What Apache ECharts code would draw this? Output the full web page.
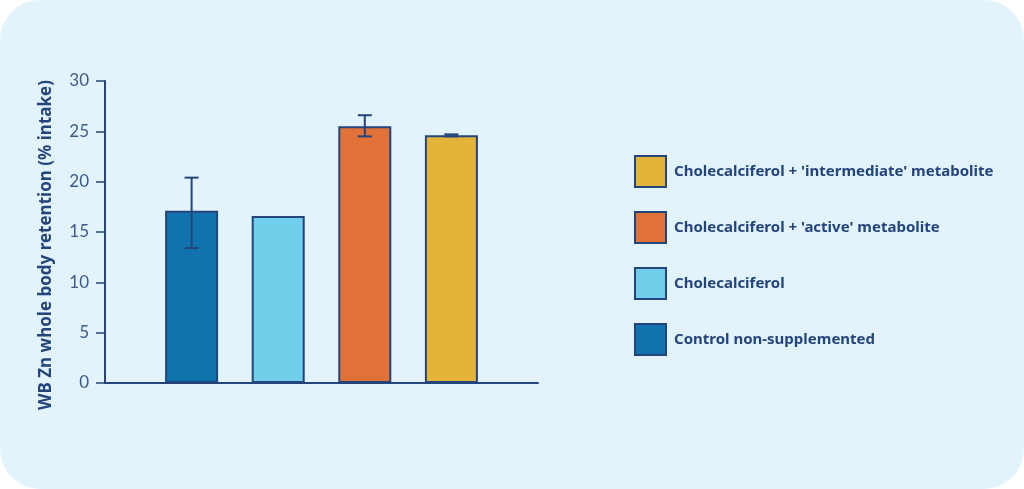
<!DOCTYPE html>
<html>
<head>
<meta charset="utf-8">
<script src="https://cdn.jsdelivr.net/npm/echarts@6/dist/echarts.min.js"></script>
<style>
  html, body { margin: 0; padding: 0; background: #ffffff; }
  #main { width: 1024px; height: 489px; background: #e2f3fb; border-radius: 40px; }
</style>
</head>
<body>
<div id="main"></div>
<script>
// groups, in plotting order (left to right)
const groups = ['Control non-supplemented', 'Cholecalciferol', "Cholecalciferol + 'active' metabolite", "Cholecalciferol + 'intermediate' metabolite"];
const values = [17.1, 16.6, 25.5, 24.6];
const errLow = [13.4, null, 24.5, 24.5];
const errHigh = [20.4, null, 26.6, 24.7];
const colors = ['#1173ae', '#70cfea', '#e17237', '#e3b43a'];
const yTicks = [0, 5, 10, 15, 20, 25, 30];

// one empty slot on each side of the bars
const slots = ['', ...groups, ''];
const navy = '#24447c';

const chart = echarts.init(document.getElementById('main'));

const barSeries = groups.map((g, i) => ({
  name: g,
  type: 'bar',
  barWidth: 53,
  barGap: '-100%',
  data: slots.map((s, k) => (k === i + 1 ? values[i] : null)),
  itemStyle: { color: colors[i], borderColor: navy, borderWidth: 2 }
}));

const errData = [];
groups.forEach((g, i) => {
  if (errLow[i] != null) errData.push([i + 1, errLow[i], errHigh[i]]);
});

const option = {
  backgroundColor: 'transparent',
  animation: false,
  textStyle: { fontFamily: 'Lato' },
  grid: { left: 105, right: 486, top: 81, bottom: 106 },
  legend: {
    data: groups.slice().reverse(),
    orient: 'vertical',
    left: 629,
    top: 150,
    itemWidth: 31,
    itemHeight: 31,
    itemGap: 23,
    icon: 'rect',
    textStyle: { color: navy, fontSize: 15, fontWeight: 'bold', fontFamily: 'Noto Sans', padding: [0, 0, 0, 3] }
  },
  xAxis: {
    type: 'category',
    data: slots,
    boundaryGap: false,
    axisLine: { lineStyle: { color: navy, width: 2 } },
    axisTick: { show: false },
    axisLabel: { show: false },
    splitLine: { show: false }
  },
  yAxis: {
    type: 'value',
    min: yTicks[0],
    max: yTicks[yTicks.length - 1],
    interval: 5,
    name: 'WB Zn whole body retention (% intake)',
    nameLocation: 'middle',
    nameGap: 50,
    nameTextStyle: { color: navy, fontSize: 17, fontWeight: 'bold', fontFamily: 'Noto Sans', padding: [0, 26, 0, 0] },
    axisLine: { show: true, lineStyle: { color: navy, width: 2 } },
    axisTick: { show: true, length: 9, lineStyle: { color: navy, width: 1.5 } },
    axisLabel: { color: '#3d5a8e', fontSize: 17, margin: 16 },
    splitLine: { show: false }
  },
  series: [
    ...barSeries,
    {
      type: 'custom',
      name: 'err',
      z: 10,
      data: errData,
      renderItem: function (params, api) {
        const x = api.value(0);
        const lo = api.coord([x, api.value(1)]);
        const hi = api.coord([x, api.value(2)]);
        const cap = 7;
        const st = { stroke: navy, lineWidth: 2 };
        return {
          type: 'group',
          children: [
            { type: 'line', shape: { x1: lo[0], y1: lo[1], x2: hi[0], y2: hi[1] }, style: st },
            { type: 'line', shape: { x1: hi[0] - cap, y1: hi[1], x2: hi[0] + cap, y2: hi[1] }, style: st },
            { type: 'line', shape: { x1: lo[0] - cap, y1: lo[1], x2: lo[0] + cap, y2: lo[1] }, style: st }
          ]
        };
      }
    }
  ]
};

chart.setOption(option);
</script>
</body>
</html>
